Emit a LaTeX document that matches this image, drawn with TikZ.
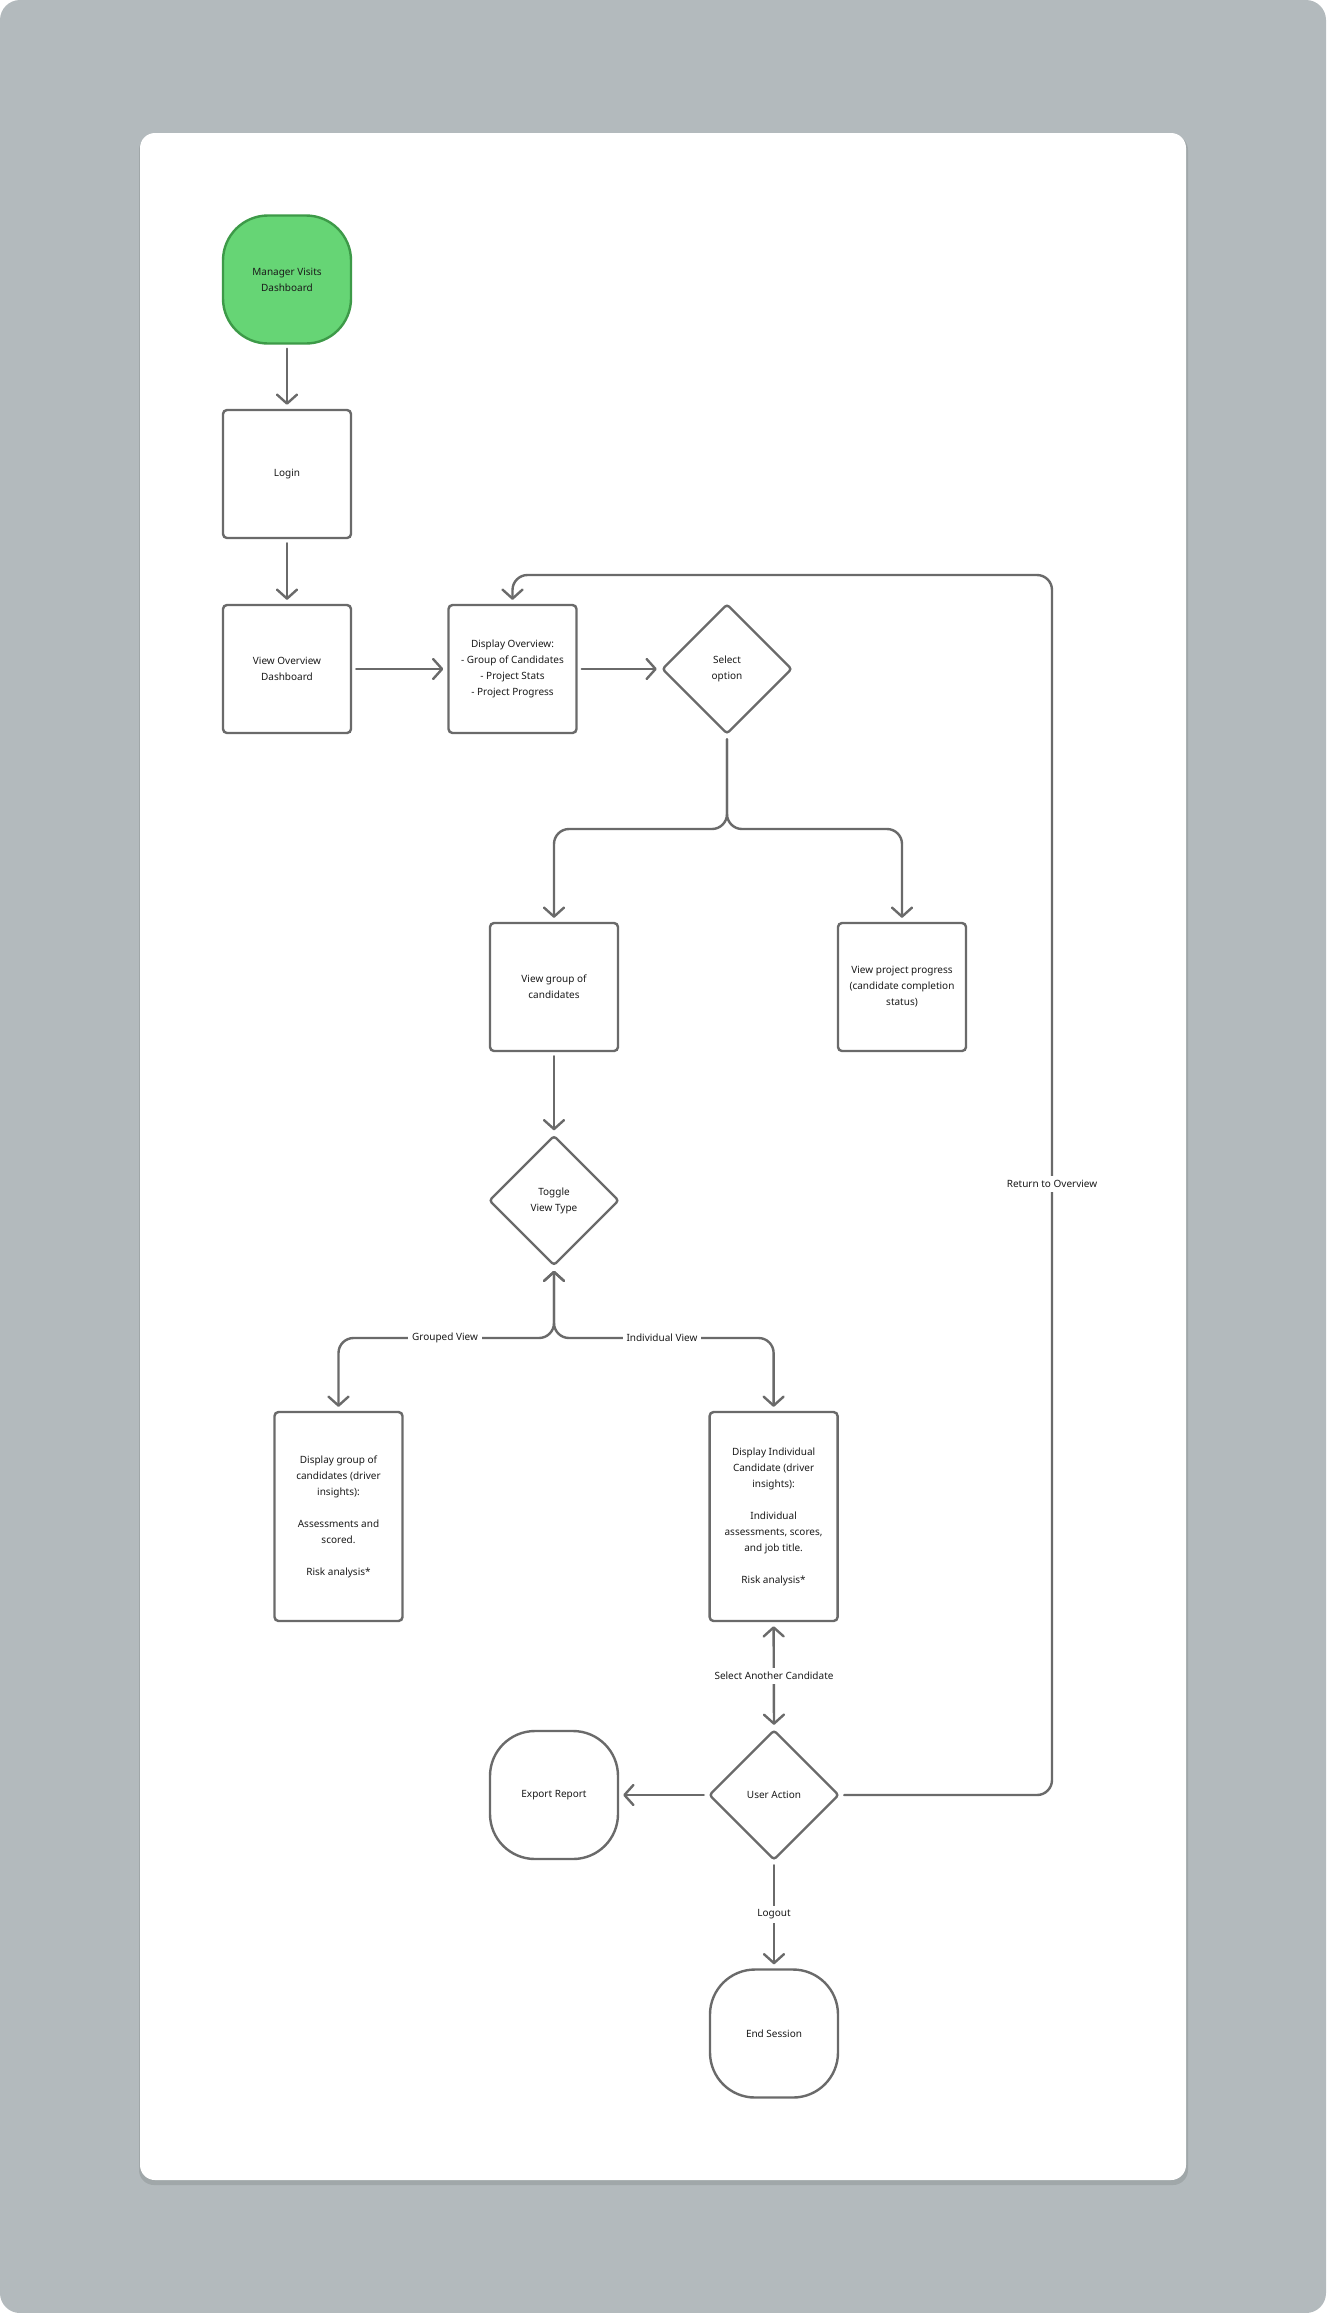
\documentclass[tikz,border=0pt]{standalone}
\usepackage{fontspec}
\setmainfont{Noto Sans}
\usetikzlibrary{shapes.geometric,arrows.meta}
\definecolor{bg}{HTML}{B3BABD}
\definecolor{ln}{HTML}{6A6A6A}
\definecolor{gfill}{HTML}{66D575}
\definecolor{gline}{HTML}{3D9A48}
\definecolor{txt}{HTML}{1A1A1A}
\begin{document}
\begin{tikzpicture}[x=1pt,y=-1pt,
  font=\fontsize{10}{16}\selectfont, text=txt,
  box/.style={draw=ln, line width=2.4pt, rounded corners=4pt, minimum width=128pt, minimum height=128pt, align=center, inner sep=2pt, fill=white},
  tall/.style={box, minimum height=209pt},
  term/.style={box, rounded corners=45pt},
  dec/.style={draw=ln, line width=2.4pt, diamond, rounded corners=3pt, minimum width=130pt, minimum height=130pt, inner sep=0pt, align=center, fill=white},
  tip/.tip={Straight Barb[length=9pt,width=20pt,line width=2.4pt,line cap=round,line join=round]},
  conn/.style={draw=ln, line width=2.4pt, line cap=round, -tip, rounded corners=15pt, shorten >=4pt, shorten <=4pt},
  conntwo/.style={conn, tip-tip},
  lbl/.style={fill=white, inner sep=4pt}
]
\useasboundingbox (0,0) rectangle (1326,2313);
\fill[white] (0,0) rectangle (1326,2313);
\fill[bg, rounded corners=20pt] (0,0) rectangle (1326,2313);
\fill[black, opacity=0.10, rounded corners=15pt] (139,135) rectangle (1188,2185);
\fill[white, rounded corners=15pt] (140,133) rectangle (1186,2180);

\node[term, fill=gfill, draw=gline] (start) at (287,279.5) {Manager Visits\\Dashboard};
\node[box] (login) at (287,474) {Login};
\node[box] (vod) at (287,669) {View Overview\\Dashboard};
\node[box] (dov) at (512.5,669) {Display Overview:\\- Group of Candidates\\- Project Stats\\- Project Progress};
\node[dec] (sel) at (727,669) {Select\\option};
\node[box] (vgc) at (554,987) {View group of\\candidates};
\node[box] (vpp) at (902,987) {View project progress\\(candidate completion\\status)};
\node[dec] (tog) at (554,1200.5) {Toggle\\View Type};
\node[tall] (dgc) at (338.5,1516.5) {Display group of\\candidates (driver\\insights):\\[16pt]Assessments and\\scored.\\[16pt]Risk analysis*};
\node[tall] (dic) at (773.6,1516.5) {Display Individual\\Candidate (driver\\insights):\\[16pt]Individual\\assessments, scores,\\and job title.\\[16pt]Risk analysis*};
\node[dec] (ua) at (774,1795) {User Action};
\node[term] (exp) at (554,1795) {Export Report};
\node[term] (endn) at (774,2033.5) {End Session};

\draw[conn] (start) -- (login);
\draw[conn] (login) -- (vod);
\draw[conn] (vod) -- (dov);
\draw[conn] (dov) -- (sel);
\draw[conn] (sel.south) -- (727,829) -| (vgc.north);
\draw[conn] (sel.south) -- (727,829) -| (vpp.north);
\draw[conn] (vgc) -- (tog);
\draw[conntwo] (tog.south) -- (554,1338) -| (dgc.north);
\draw[conntwo] (tog.south) -- (554,1338) -| (dic.north);
\draw[conntwo] (dic.south) -- (ua.north);
\draw[conn] (ua.west) -- (exp.east);
\draw[conn] (ua.south) -- (endn.north);
\draw[conn] (ua.east) -- (1052,1795) -- (1052,575) -| (dov.north);

\node[lbl] (lgv) at (445,1338) {Grouped View};
\node[lbl] (liv) at (662,1338) {Individual View};
\node[lbl] (lsac) at (774,1676) {Select Another Candidate};
\node[lbl] (llo) at (774,1914.5) {Logout};
\node[lbl] (lrto) at (1052,1184) {Return to Overview};
\end{tikzpicture}
\end{document}
